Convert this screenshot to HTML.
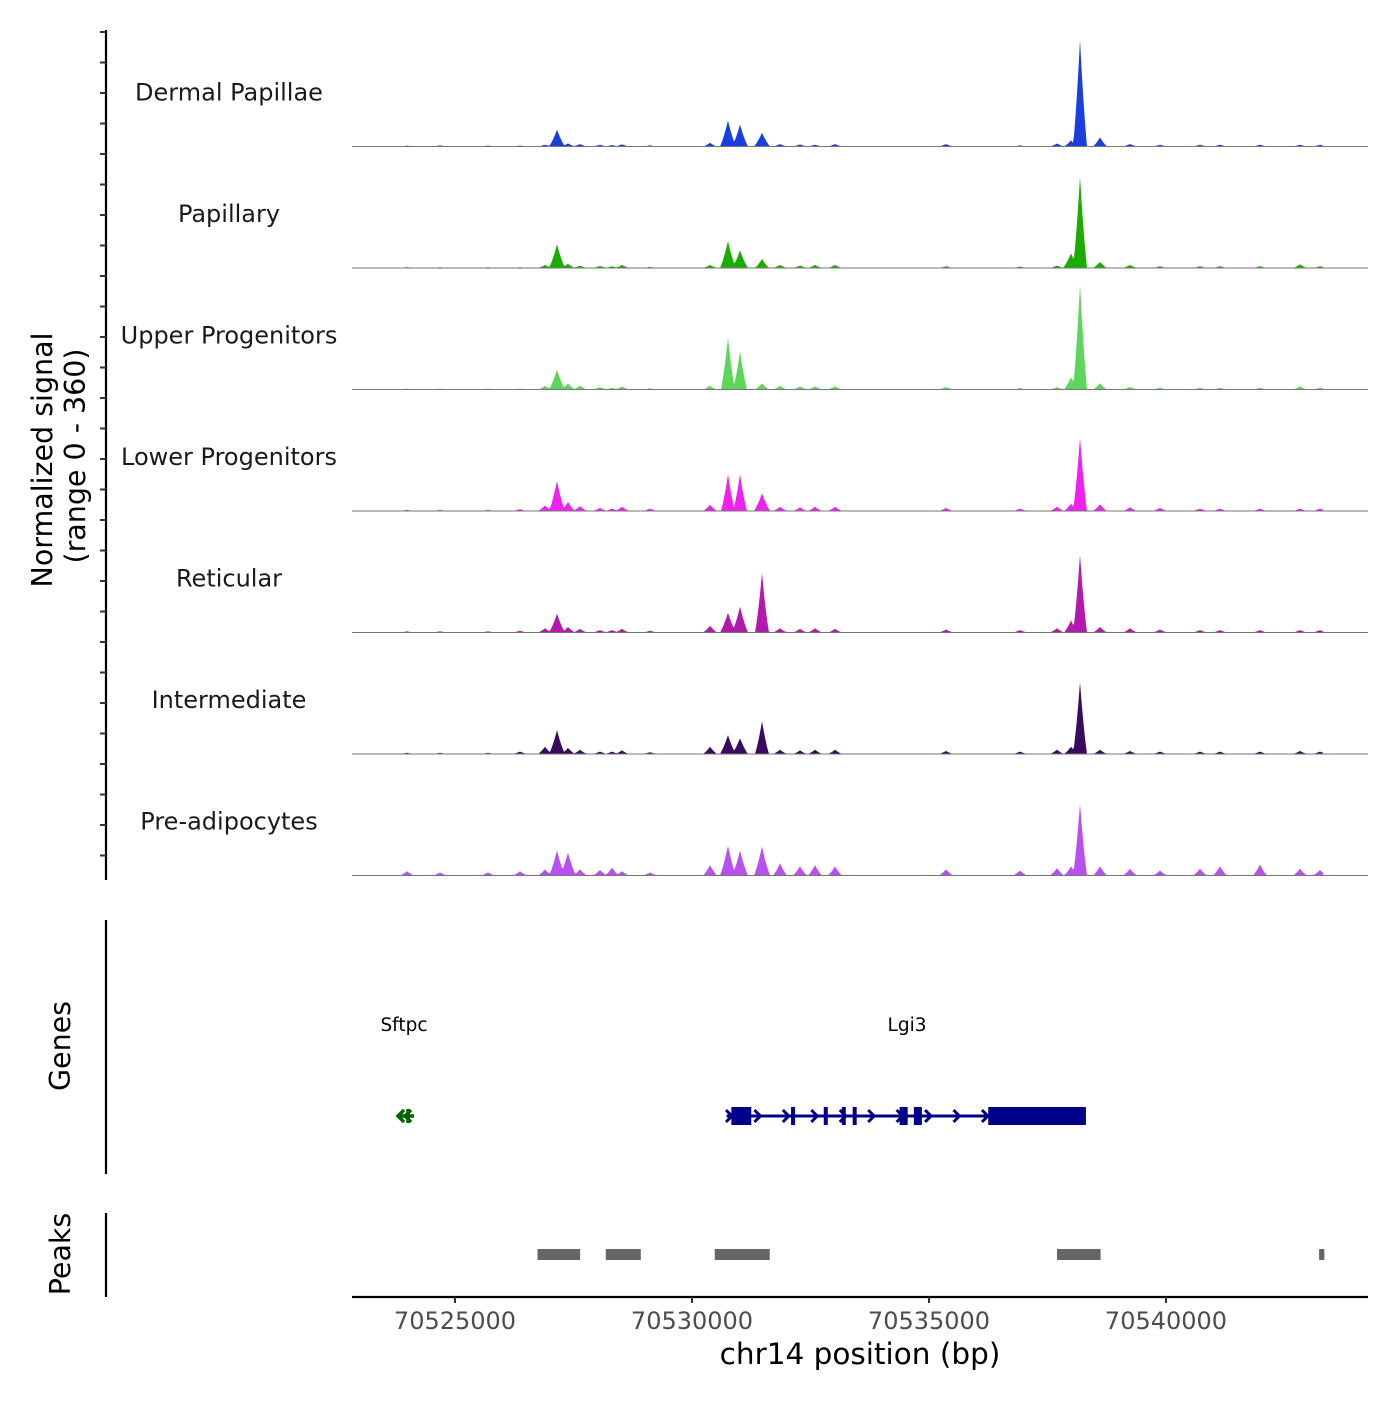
<!DOCTYPE html>
<html><head><meta charset="utf-8"><style>
html,body{margin:0;padding:0;background:#fff;}
svg text{font-family:"DejaVu Sans","Liberation Sans",sans-serif;}
</style></head><body>
<svg id="chart" width="1400" height="1400" viewBox="0 0 1400 1400" xmlns="http://www.w3.org/2000/svg">
<g id="tracks"></g>
<g id="axes"></g>
<g id="genes"></g>
<g id="peaks"></g>
</svg>
<script>
// ---- data ----
const trackNames = ["Dermal Papillae","Papillary","Upper Progenitors","Lower Progenitors","Reticular","Intermediate","Pre-adipocytes"];
const trackColors = ["#1a3fde","#1aad00","#5cd65c","#f020f0","#b21aad","#3a0a5e","#b84ff0"];
const peakPos = [70523987,70524684,70525696,70526371,70526899,70527152,70527384,70527637,70528059,70528312,70528523,70529114,70530380,70530759,70531013,70531477,70531857,70532278,70532595,70533017,70535359,70536920,70537700,70537996,70538186,70538608,70539241,70539873,70540717,70541139,70541983,70542827,70543249];
const dermalPapillae = [3,4,3,3,6,55,10,8,6,5,7,4,12,85,72,45,8,7,6,8,8,4,10,20,350,30,8,6,6,6,6,6,6];
const papillary      = [3,3,3,3,10,78,14,8,7,6,10,4,10,88,58,30,10,8,10,10,6,5,8,48,300,20,10,6,6,6,6,12,6];
const upperProg      = [3,3,3,3,12,65,20,12,8,6,10,4,12,170,125,20,12,10,10,10,8,5,8,40,345,20,8,6,6,6,6,10,6];
const lowerProg      = [4,4,4,6,18,98,30,16,10,8,14,8,20,120,120,58,14,12,14,14,10,8,14,24,240,22,12,10,8,8,8,8,8];
const reticular      = [4,4,4,6,14,62,18,12,8,8,12,6,22,65,85,195,14,12,14,12,10,8,14,40,255,18,14,10,8,8,8,8,8];
const intermediate   = [4,4,4,8,24,78,20,14,8,8,12,6,24,62,52,108,14,12,14,14,10,8,14,24,235,14,10,8,8,8,8,10,8];
const preAdipo       = [14,10,10,14,20,82,75,20,18,26,14,10,34,98,82,95,40,30,34,30,20,16,24,30,235,30,22,16,22,30,36,22,18];
const trackValues = [dermalPapillae,papillary,upperProg,lowerProg,reticular,intermediate,preAdipo];
const xTicks = [70525000,70530000,70535000,70540000];
const geneNames = ["Sftpc","Lgi3"];
const lgi3Start = 70530730, lgi3End = 70538310;
const lgi3Exons = [[70530830,70531250],[70532090,70532130],[70532780,70532820],[70533160,70533200],[70533390,70533430],[70534380,70534550],[70534680,70534850],[70536250,70538310]];
const peakRegions = [[70526740,70527640],[70528180,70528920],[70530480,70531640],[70537700,70538620],[70543230,70543340]];

// ---- scales ----
const NS="http://www.w3.org/2000/svg";
const X0=352, X1=1368;
const x = bp => 455 + (bp-70525000)*0.0474;
const yMax = 360, trackH = 121.5, trackTop = 25;
function mk(tag, attrs, parent){const e=document.createElementNS(NS,tag);for(const k in attrs)e.setAttribute(k,attrs[k]);parent.appendChild(e);return e;}
const tracks=document.getElementById('tracks');
trackNames.forEach((name,i)=>{
  const base = trackTop + trackH*(i+1);
  const sc = v => v/yMax*110;
  const g=mk('g',{},tracks);
  
  
  const vals=trackValues[i];
  let d='M'+X0+','+base;
  for(let px=X0;px<=1323;px+=1){
    let h=0;
    peakPos.forEach((p,j)=>{
      const dx=Math.abs(px-x(p)); const hw = vals[j]>100?7:(vals[j]>40?8:7);
      const r=dx/hw; const v = vals[j]*Math.max(0,1-r)*Math.max(0,1-r*0.3);
      if(v>h)h=v;
    });
    d+=' L'+px+','+(base-sc(h)).toFixed(1);
  }
  d+=' L1323,'+base+' Z';
  const area=mk('path',{d:d,fill:trackColors[i]},g);
  
  
  const bl=mk('line',{x1:X0,x2:X1,y1:base,y2:base,stroke:'#777','stroke-width':1},g);
  
  
  const t=mk('text',{x:229,y:base-46,'text-anchor':'middle','font-size':24,fill:'#1a1a1a'},g);
  t.textContent=name;
  
  
});
const ax=document.getElementById('axes');
mk('line',{x1:106,x2:106,y1:30,y2:880,stroke:'#000','stroke-width':2.2},ax);
for(let yy=32;yy<=878;yy+=30.5){mk('line',{x1:100,x2:106,y1:yy,y2:yy,stroke:'#333','stroke-width':2},ax);}
let t1=mk('text',{x:0,y:0,'font-size':28.5,'text-anchor':'middle',transform:'translate(52,460) rotate(-90)'},ax);t1.textContent='Normalized signal';

let t2=mk('text',{x:0,y:0,'font-size':28.5,'text-anchor':'middle',transform:'translate(85,456) rotate(-90)'},ax);t2.textContent='(range 0 - 360)';

mk('line',{x1:106,x2:106,y1:920,y2:1174,stroke:'#000','stroke-width':2.2},ax);
let t3=mk('text',{x:0,y:0,'font-size':28.5,'text-anchor':'middle',transform:'translate(70,1046) rotate(-90)'},ax);t3.textContent='Genes';

mk('line',{x1:106,x2:106,y1:1213,y2:1297,stroke:'#000','stroke-width':2.2},ax);
let t4=mk('text',{x:0,y:0,'font-size':28.5,'text-anchor':'middle',transform:'translate(70,1254) rotate(-90)'},ax);t4.textContent='Peaks';

mk('line',{x1:X0,x2:X1,y1:1297,y2:1297,stroke:'#000','stroke-width':2.2},ax);
xTicks.forEach(v=>{
  mk('line',{x1:x(v),x2:x(v),y1:1297,y2:1303,stroke:'#333','stroke-width':2},ax);
  const tl=mk('text',{x:x(v),y:1329,'text-anchor':'middle','font-size':24,fill:'#4d4d4d'},ax);tl.textContent=v;
  
});
let t5=mk('text',{x:860,y:1364,'text-anchor':'middle','font-size':29.5},ax);t5.textContent='chr14 position (bp)';

const gg=document.getElementById('genes');
let gl=mk('text',{x:404,y:1031,'text-anchor':'middle','font-size':18.5},gg);gl.textContent=geneNames[0];

let gl2=mk('text',{x:907,y:1031,'text-anchor':'middle','font-size':18.5},gg);gl2.textContent=geneNames[1];

let sf=mk('path',{d:'M404,1110 L398,1116 L404,1122 M411,1110 L405,1116 L411,1122 M408,1109 L408,1123 M398,1116 L414,1116',stroke:'#006400','stroke-width':3.5,fill:'none'},gg);

const lg=mk('g',{},gg);
mk('line',{x1:x(lgi3Start),x2:x(lgi3End),y1:1116,y2:1116,stroke:'#00008b','stroke-width':3},lg);
for(let p=lgi3Start+50;p<lgi3End-1500;p+=600){const xx=x(p);mk('path',{d:`M${xx-3},1110 L${xx+3},1116 L${xx-3},1122`,stroke:'#00008b','stroke-width':3,fill:'none'},lg);}
lgi3Exons.forEach(e=>{const xa=x(e[0]),xb=x(e[1]);const w=Math.max(4,xb-xa);mk('rect',{x:xa,y:1107,width:w,height:18,fill:'#00008b'},lg);});
const pg=document.getElementById('peaks');
peakRegions.forEach(r=>{const rc=mk('rect',{x:x(r[0]),y:1249,width:Math.max(5,x(r[1])-x(r[0])),height:11,fill:'#666'},pg);
});
</script>
</body></html>
